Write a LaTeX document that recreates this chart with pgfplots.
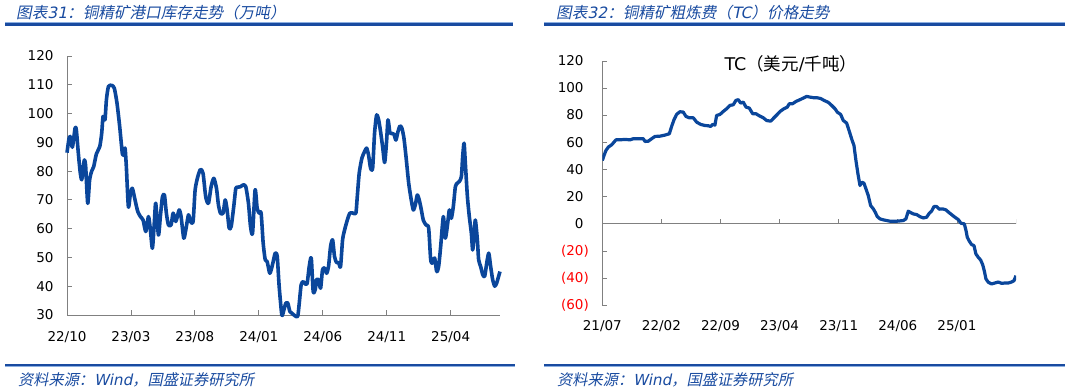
\documentclass[border=0pt]{standalone}
\usepackage{fontspec}
\setmainfont{DejaVu Sans}
\newfontfamily\cjk{Noto Sans CJK SC}
\newfontfamily\cjkit[FakeSlant=0.2]{Noto Sans CJK SC}
\newfontfamily\verit[FakeSlant=0.2]{DejaVu Sans}
\usepackage{pgfplots}
\pgfplotsset{compat=1.18}
\definecolor{lineblue}{RGB}{10,70,155}
\definecolor{titleblue}{RGB}{25,75,160}
\definecolor{lightblue}{RGB}{140,175,225}
\definecolor{axisgray}{RGB}{128,128,128}
\begin{document}
\begin{tikzpicture}
\useasboundingbox (0,0) rectangle (1065bp,392bp);
% panel decorations
\fill[lightblue] (5bp,368.6bp) rectangle (513bp,369.6bp);
\fill[titleblue] (5bp,366.2bp) rectangle (513bp,368.6bp);
\fill[lightblue] (544bp,368.6bp) rectangle (1065bp,369.6bp);
\fill[titleblue] (544bp,366.2bp) rectangle (1065bp,368.6bp);
\fill[lightblue] (5bp,24.6bp) rectangle (515bp,25.6bp);
\fill[titleblue] (5bp,25.6bp) rectangle (515bp,28bp);
\fill[lightblue] (544bp,24.6bp) rectangle (1065bp,25.6bp);
\fill[titleblue] (544bp,25.6bp) rectangle (1065bp,28bp);
\node[anchor=west,inner sep=0,text=titleblue,font=\fontsize{15.6bp}{18bp}\selectfont] at (16bp,379bp) {{\cjkit 图表}{\verit 31}{\cjkit ：铜精矿港口库存走势（万吨）}};
\node[anchor=west,inner sep=0,text=titleblue,font=\fontsize{15.6bp}{18bp}\selectfont] at (556bp,379bp) {{\cjkit 图表}{\verit 32}{\cjkit ：铜精矿粗炼费（}{\verit TC}{\cjkit ）价格走势}};
\node[anchor=west,inner sep=0,text=titleblue,font=\fontsize{15.2bp}{17bp}\selectfont] at (18bp,12bp) {{\cjkit 资料来源：}{\verit Wind}{\cjkit ，国盛证券研究所}};
\node[anchor=west,inner sep=0,text=titleblue,font=\fontsize{15.2bp}{17bp}\selectfont] at (557bp,12bp) {{\cjkit 资料来源：}{\verit Wind}{\cjkit ，国盛证券研究所}};

% left chart
\begin{axis}[
  at={(67bp,77bp)}, anchor=south west,
  scale only axis, width=433bp, height=259bp,
  xmin=0, xmax=33.86, ymin=30, ymax=120,
  axis x line=bottom, axis y line=left,
  axis line style={-, draw=axisgray, line width=0.8bp},
  tick style={draw=axisgray, line width=0.8bp},
  tick align=inside, major tick length=5bp,
  xtick={0,5,10,15,20,25,30},
  xticklabels={22/10,23/03,23/08,24/01,24/06,24/11,25/04},
  ytick={30,40,50,60,70,80,90,100,110,120},
  yticklabels={30,40,50,60,70,80,90,100,110,120},
  tick label style={font=\fontsize{13.5bp}{16bp}\selectfont, text=black},
  xticklabel style={yshift=-13bp},
  yticklabel style={xshift=-10bp},
  clip=false,
]
\addplot[lineblue, line width=3.6bp, smooth, tension=0.4, line join=round] coordinates {
(0.00,86.4)(0.16,91.4)(0.26,92.0)(0.42,88.3)(0.63,94.9)(0.73,94.3)(0.89,86.0)(1.04,79.3)(1.15,77.0)(1.25,80.5)(1.36,83.9)(1.46,81.6)(1.62,68.8)(1.77,77.0)(1.93,80.0)(2.09,81.6)(2.30,86.0)(2.56,88.5)(2.71,93.0)(2.82,99.0)(2.97,97.8)(3.08,104.7)(3.24,109.4)(3.50,109.8)(3.70,108.8)(3.91,103.6)(4.12,95.5)(4.33,86.0)(4.44,86.0)(4.54,88.0)(4.64,81.6)(4.80,67.6)(4.96,72.3)(5.11,74.0)(5.32,70.0)(5.53,66.0)(5.74,64.2)(5.95,63.0)(6.16,59.0)(6.37,64.2)(6.52,59.6)(6.68,53.2)(6.84,63.0)(6.94,68.8)(7.15,57.8)(7.30,64.2)(7.46,71.0)(7.62,71.7)(7.77,65.4)(7.93,61.3)(8.14,61.3)(8.30,65.4)(8.51,62.5)(8.77,66.5)(8.92,64.2)(9.13,56.7)(9.29,59.6)(9.50,64.8)(9.65,62.5)(9.86,62.5)(10.02,73.5)(10.23,78.1)(10.44,80.6)(10.64,79.2)(10.85,71.0)(11.06,68.8)(11.27,74.6)(11.48,77.5)(11.69,74.0)(11.84,68.3)(12.00,65.4)(12.21,65.4)(12.37,70.0)(12.52,66.5)(12.68,60.2)(12.84,60.8)(13.04,67.7)(13.20,74.0)(13.36,74.4)(13.57,74.6)(13.78,75.2)(13.98,74.6)(14.19,68.8)(14.35,60.8)(14.51,58.4)(14.71,73.5)(14.87,67.1)(15.03,65.4)(15.18,65.4)(15.34,55.0)(15.50,49.2)(15.65,48.6)(15.86,44.5)(16.07,47.5)(16.28,51.5)(16.44,50.3)(16.59,40.0)(16.80,30.0)(16.96,31.8)(17.11,34.1)(17.27,34.1)(17.43,31.2)(17.64,30.4)(17.90,29.5)(18.05,29.7)(18.16,34.0)(18.31,40.5)(18.47,41.6)(18.63,40.8)(18.78,41.0)(18.94,46.8)(19.10,49.8)(19.25,38.2)(19.41,38.8)(19.51,42.2)(19.67,42.2)(19.83,39.3)(19.98,45.7)(20.14,46.3)(20.30,44.5)(20.45,46.8)(20.61,53.8)(20.77,56.1)(20.92,50.3)(21.08,48.2)(21.24,48.2)(21.39,46.8)(21.55,56.1)(21.71,59.6)(21.92,63.0)(22.12,65.4)(22.38,65.4)(22.59,65.4)(22.70,71.2)(22.85,79.3)(23.06,84.5)(23.27,86.8)(23.43,88.0)(23.58,85.6)(23.74,81.0)(23.90,81.0)(24.05,93.1)(24.21,99.5)(24.37,97.8)(24.52,93.7)(24.68,88.5)(24.84,83.0)(24.99,90.3)(25.10,97.8)(25.25,93.4)(25.41,93.1)(25.57,92.8)(25.72,90.8)(25.88,93.7)(26.04,95.7)(26.19,94.9)(26.35,91.4)(26.51,85.0)(26.72,75.8)(26.92,70.0)(27.08,66.5)(27.24,68.3)(27.39,71.7)(27.55,69.9)(27.71,66.5)(27.86,63.0)(28.07,61.3)(28.28,60.2)(28.44,49.2)(28.59,48.0)(28.75,49.8)(28.91,45.1)(29.06,46.8)(29.22,53.8)(29.43,64.2)(29.58,56.7)(29.74,60.8)(29.90,66.5)(30.05,63.6)(30.21,67.7)(30.37,74.6)(30.52,75.8)(30.68,76.4)(30.84,78.1)(30.94,85.0)(31.05,89.7)(31.15,82.7)(31.31,71.2)(31.46,64.2)(31.62,58.4)(31.72,52.6)(31.83,57.2)(31.93,63.0)(32.09,56.1)(32.19,49.2)(32.35,46.8)(32.51,44.0)(32.66,43.4)(32.82,48.0)(32.98,51.5)(33.13,46.8)(33.29,42.2)(33.45,40.0)(33.60,41.1)(33.71,42.8)(33.86,45.1)
};
\end{axis}

% right chart
\begin{axis}[
  at={(602.3bp,87bp)}, anchor=south west,
  scale only axis, width=413.7bp, height=243.3bp,
  xmin=0, xmax=49, ymin=-60, ymax=120,
  axis x line=bottom, axis y line=left,
  axis line style={-, draw=axisgray, line width=0.8bp},
  x axis line style={draw=none},
  tick style={draw=axisgray, line width=0.8bp},
  major x tick style={draw=none},
  tick align=inside, major tick length=5bp,
  xtick={0,7,14,21,28,35,42},
  xticklabels={21/07,22/02,22/09,23/04,23/11,24/06,25/01},
  ytick={-60,-40,-20,0,20,40,60,80,100,120},
  yticklabels={\textcolor{red}{(60)},\textcolor{red}{(40)},\textcolor{red}{(20)},0\phantom{)},20\phantom{)},40\phantom{)},60\phantom{)},80\phantom{)},100\phantom{)},120\phantom{)}},
  tick label style={font=\fontsize{13.5bp}{16bp}\selectfont, text=black},
  xticklabel style={yshift=-12bp},
  yticklabel style={xshift=-10bp},
  title={TC{\cjk（美元}/{\cjk 千吨）}},
  title style={at={(0.456,1)}, anchor=north, yshift=4bp, font=\fontsize{17.5bp}{20bp}\selectfont},
]
\draw[axisgray, line width=0.8bp] (axis cs:0,0) -- (axis cs:49,0);
\pgfplotsinvokeforeach{7,14,21,28,35,42,49}{ \draw[axisgray, line width=0.8bp] (axis cs:#1,0) -- (axis cs:#1,3.7); }
\addplot[lineblue, line width=3.2bp, line join=round] coordinates {
(0,46.9)(0.20,50.6)(0.43,54.3)(0.71,56.8)(1.11,58.5)(1.38,60.5)(1.62,62.2)(2.09,62.2)(2.68,62.5)(3.28,62.2)(3.67,63.0)(4.26,63.0)(4.86,63.0)(5.05,61.0)(5.45,61.2)(5.84,63.0)(6.24,64.7)(6.83,64.9)(7.42,65.7)(7.94,66.7)(8.21,72.1)(8.49,77.0)(8.80,81.0)(9.20,83.0)(9.59,82.7)(9.91,79.5)(10.30,78.5)(10.78,78.5)(11.17,75.3)(11.65,73.6)(12.16,72.8)(12.55,72.6)(12.83,72.1)(13.07,73.6)(13.34,73.1)(13.54,80.2)(13.94,81.0)(14.33,83.2)(14.73,85.2)(15.12,87.7)(15.51,88.1)(15.83,91.4)(16.11,91.9)(16.38,89.4)(16.70,90.1)(17.02,86.4)(17.41,85.7)(17.81,81.5)(18.20,81.5)(18.59,80.0)(19.07,78.5)(19.46,76.5)(19.94,76.0)(20.33,78.5)(20.73,81.0)(21.12,83.5)(21.52,85.2)(21.91,86.4)(22.15,88.9)(22.54,88.9)(22.94,90.6)(23.41,91.9)(23.81,93.1)(24.20,94.3)(24.60,93.8)(25.07,93.3)(25.46,93.3)(25.86,92.8)(26.25,91.4)(26.77,89.9)(27.16,87.7)(27.56,85.2)(27.83,82.7)(28.23,81.0)(28.54,76.5)(28.94,74.6)(29.25,68.6)(29.57,62.2)(29.81,58.0)(30.04,46.9)(30.28,37.0)(30.52,28.4)(30.75,30.9)(30.99,30.1)(31.23,25.9)(31.50,21.0)(31.78,13.6)(32.10,11.1)(32.33,8.6)(32.57,5.4)(32.89,3.7)(33.28,3.0)(33.68,2.5)(34.07,2.0)(34.47,2.0)(34.86,2.0)(35.25,2.2)(35.65,2.5)(35.96,3.7)(36.24,9.4)(36.52,8.4)(36.83,7.4)(37.23,6.9)(37.62,5.4)(38.02,4.4)(38.41,4.9)(38.73,7.9)(39.00,9.4)(39.28,12.8)(39.60,12.8)(39.91,10.9)(40.31,11.1)(40.70,10.4)(41.02,8.6)(41.37,6.9)(41.77,4.9)(42.16,3.2)(42.48,0.5)(42.88,0.0)(43.08,-4.9)(43.23,-9.9)(43.47,-12.8)(43.74,-15.3)(44.02,-16.0)(44.25,-22.2)(44.53,-24.7)(44.81,-26.7)(45.05,-30.1)(45.24,-34.6)(45.44,-40.7)(45.72,-43.2)(46.11,-44.4)(46.51,-43.7)(46.90,-43.0)(47.30,-44.0)(47.69,-43.7)(48.09,-43.7)(48.48,-43.0)(48.76,-42.0)(49.00,-38.3)
};
\end{axis}
\end{tikzpicture}
\end{document}
